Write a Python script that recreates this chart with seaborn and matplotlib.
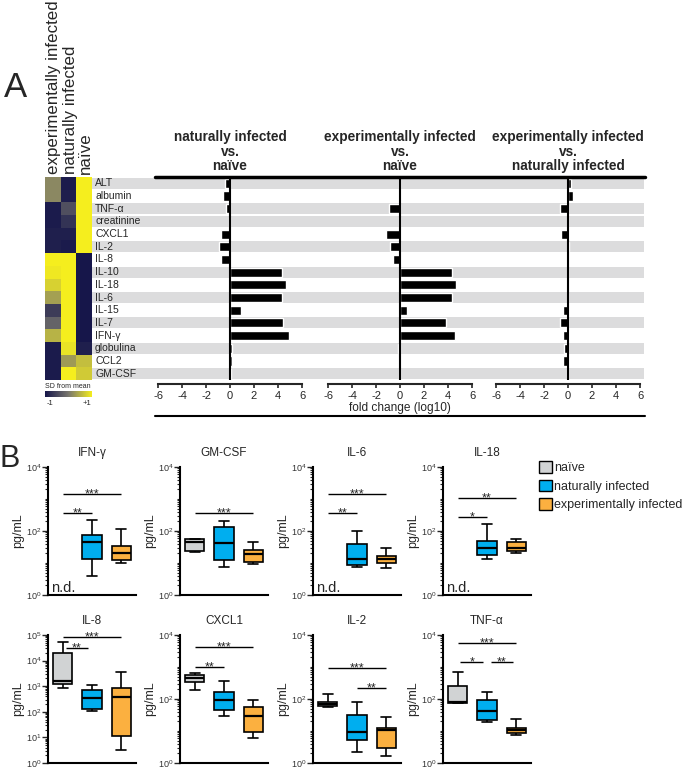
import numpy as np
import pandas as pd
import matplotlib
matplotlib.use("Agg")
import matplotlib.pyplot as plt
import seaborn as sns
from matplotlib.colors import LinearSegmentedColormap
from matplotlib.patches import Patch
from matplotlib.lines import Line2D
from matplotlib.ticker import LogLocator, LogFormatterMathtext, NullFormatter, FixedLocator

sns.set_style("white")
plt.rcParams["font.family"] = ["Liberation Sans", "DejaVu Sans"]
plt.rcParams["axes.unicode_minus"] = False

# ---------------- Panel A data ----------------
rows = ["ALT", "albumin", "TNF-α", "creatinine", "CXCL1", "IL-2", "IL-8", "IL-10",
        "IL-18", "IL-6", "IL-15", "IL-7", "IFN-γ", "globulina", "CCL2", "GM-CSF"]
heat_cols = ["experimentally infected", "naturally infected", "naïve"]
heat_exp = [0.15, 0.15, -0.95, -0.95, -0.9, -0.9, 1.0, 0.95, 0.75, 0.35, -0.6, -0.2, 0.5, -0.95, -0.95, -0.95]
heat_nat = [-0.95, -0.9, -0.4, -0.7, -0.9, -0.95, 1.0, 1.0, 1.0, 1.0, 1.0, 1.0, 1.0, 0.9, 0.3, 1.0]
heat_naive = [1.0, 1.0, 1.0, 1.0, 1.0, 1.0, -1.0, -1.0, -1.0, -1.0, -1.0, -1.0, -1.0, -0.9, 0.6, 0.7]

fc_titles = ["naturally infected\nvs.\nnaïve",
             "experimentally infected\nvs.\nnaïve",
             "experimentally infected\nvs.\nnaturally infected"]
fc_nat_naive = [-0.4, -0.55, -0.35, -0.1, -0.75, -0.9, -0.75, 4.3, 4.65, 4.35, 0.9, 4.4, 4.9, 0.2, 0.15, 0.05]
fc_exp_naive = [-0.05, -0.1, -0.9, -0.05, -1.2, -0.8, -0.6, 4.35, 4.7, 4.35, 0.55, 3.8, 4.6, -0.15, -0.1, -0.1]
fc_exp_nat = [0.28, 0.42, -0.64, 0.02, -0.55, 0.05, 0.03, 0.02, 0.02, 0.02, -0.4, -0.64, -0.4, -0.35, -0.4, -0.1]
fc_ticks = [-6, -4, -2, 0, 2, 4, 6]

# ---------------- Panel B data (whisker low, Q1, median, Q3, whisker high) ----------------
groups = ["naïve", "naturally infected", "experimentally infected"]

ifng_nat = [3.9, 13, 46, 75, 220]
ifng_exp = [10.2, 12.4, 21, 34, 112]

gmcsf_naive = [22, 24, 46, 55, 58]
gmcsf_nat = [7.7, 12.4, 41, 130, 210]
gmcsf_exp = [9.3, 11, 18.7, 25.5, 46]

il6_nat = [7.3, 8.7, 13, 38, 102]
il6_exp = [6.8, 9.8, 13, 17, 30]

il18_nat = [13, 17.8, 30, 50, 162]
il18_exp = [20, 23.7, 30, 44.6, 56]

il8_naive = [870, 1180, 1600, 19000, 55000]
il8_nat = [107, 125, 355, 710, 1080]
il8_exp = [3.2, 11.7, 390, 830, 3700]

cxcl1_naive = [190, 350, 445, 560, 630]
cxcl1_nat = [29, 45, 93, 170, 365]
cxcl1_exp = [5.9, 9.1, 30, 57, 93]

il2_naive = [58, 60, 70, 83, 140]
il2_nat = [2.2, 5.2, 9.5, 31.6, 83]
il2_exp = [1.6, 2.9, 10.7, 12, 28]

tnfa_naive = [74, 76, 83, 260, 710]
tnfa_nat = [19.6, 22, 43, 93, 170]
tnfa_exp = [7.5, 8.9, 10.7, 12.7, 23.7]

# significance: (group a, group b, level in pg/mL, label)
ifng_sig = [(0, 2, 1400, "***"), (0, 1, 355, "**")]
gmcsf_sig = [(0, 2, 355, "***")]
il6_sig = [(0, 2, 1400, "***"), (0, 1, 355, "**")]
il18_sig = [(0, 2, 1050, "**"), (0, 1, 265, "*")]
il8_sig = [(0, 2, 85000, "***"), (0.1, 0.85, 30000, "**")]
cxcl1_sig = [(0, 2, 4200, "***"), (0, 1, 980, "**")]
il2_sig = [(0, 2, 950, "***"), (1, 2, 225, "**")]
tnfa_sig = [(0, 2, 5800, "***"), (0.08, 0.88, 1400, "*"), (1.12, 1.9, 1400, "**")]

panels = [
    ("IFN-γ", [None, ifng_nat, ifng_exp], 1e4, ifng_sig),
    ("GM-CSF", [gmcsf_naive, gmcsf_nat, gmcsf_exp], 1e4, gmcsf_sig),
    ("IL-6", [None, il6_nat, il6_exp], 1e4, il6_sig),
    ("IL-18", [None, il18_nat, il18_exp], 1e4, il18_sig),
    ("IL-8", [il8_naive, il8_nat, il8_exp], 1e5, il8_sig),
    ("CXCL1", [cxcl1_naive, cxcl1_nat, cxcl1_exp], 1e4, cxcl1_sig),
    ("IL-2", [il2_naive, il2_nat, il2_exp], 1e4, il2_sig),
    ("TNF-α", [tnfa_naive, tnfa_nat, tnfa_exp], 1e4, tnfa_sig),
]

# ---------------- styling ----------------
W, H = 685, 769
palette = {"naïve": "#D1D3D4", "naturally infected": "#00AEEF", "experimentally infected": "#FBB040"}
heat_cmap = LinearSegmentedColormap.from_list("sd", ["#16164a", "#78766e", "#f5ee1e"])
band_gray = [1, 0, 1, 1, 0, 1, 0, 1, 0, 1, 0, 1, 0, 1, 0, 1]

fig = plt.figure(figsize=(W / 100, H / 100), dpi=100)


def ax_px(x0, y0, x1, y1, **kw):
    return fig.add_axes([x0 / W, 1 - y1 / H, (x1 - x0) / W, (y1 - y0) / H], **kw)


def fx(x):
    return x / W


def fy(y):
    return 1 - y / H


ROW_TOP, ROW_BOT = 177, 380
n = len(rows)

# background bands + labels
ax_bg = ax_px(92, ROW_TOP, 644, ROW_BOT)
ax_bg.set_xlim(0, 1)
ax_bg.set_ylim(n - 0.5, -0.5)
for i, g in enumerate(band_gray):
    if g:
        ax_bg.axhspan(i - 0.43, i + 0.43, color="#dcdcdd", lw=0)
for i, r in enumerate(rows):
    ax_bg.text(3 / 552, i, r, va="center", ha="left", fontsize=7.5)
ax_bg.axis("off")

# heatmap
heat_df = pd.DataFrame({c: v for c, v in zip(heat_cols, [heat_exp, heat_nat, heat_naive])}, index=rows)
ax_h = ax_px(45, ROW_TOP, 92, ROW_BOT)
sns.heatmap(heat_df, cmap=heat_cmap, vmin=-1, vmax=1, cbar=False, xticklabels=False,
            yticklabels=False, ax=ax_h)
for xc, lab in zip([53.5, 70, 85.5], heat_cols):
    fig.text(fx(xc), fy(174), lab, rotation=90, ha="center", va="bottom", fontsize=12.2)

# colorbar
ax_cb = ax_px(45, 391, 92, 397)
ax_cb.imshow(np.linspace(-1, 1, 256)[None, :], aspect="auto", cmap=heat_cmap)
ax_cb.axis("off")
fig.text(fx(45), fy(387), "SD from mean", fontsize=5, ha="left", va="center")
fig.text(fx(47), fy(404), "-1", fontsize=5.5, ha="left", va="center")
fig.text(fx(91), fy(404), "+1", fontsize=5.5, ha="right", va="center")

fig.text(fx(4), fy(97), "A", fontsize=25, ha="left", va="baseline")

# fold change bars
for left, vals, title in zip([158, 328, 496], [fc_nat_naive, fc_exp_naive, fc_exp_nat], fc_titles):
    ax = ax_px(left, ROW_TOP, left + 144, ROW_BOT)
    ax.patch.set_alpha(0)
    df = pd.DataFrame({"row": rows, "fc": vals})
    sns.barplot(data=df, x="fc", y="row", orient="h", color="black", width=0.72,
                saturation=1, ax=ax)
    ax.set_xlim(-6, 6)
    ax.axvline(0, color="black", lw=1.5, zorder=5)
    ax.set_yticks([])
    ax.set_ylabel("")
    ax.set_xlabel("")
    ax.set_xticks(fc_ticks)
    ax.tick_params(axis="x", direction="out", length=3, width=1.2, labelsize=8, pad=2, bottom=True)
    for s in ["top", "left", "right"]:
        ax.spines[s].set_visible(False)
    ax.spines["bottom"].set_linewidth(1.5)
    ax.spines["bottom"].set_position(("outward", 3))
    fig.text(fx(left + 72), fy(151.5), title, ha="center", va="center", fontsize=9.8,
             fontweight="bold", linespacing=1.07)

fig.add_artist(Line2D([fx(155), fx(645)], [fy(177), fy(177)], color="black", lw=2.5))
fig.text(fx(400), fy(408), "fold change (log10)", ha="center", va="center", fontsize=8.6)
fig.add_artist(Line2D([fx(155), fx(645)], [fy(416), fy(416)], color="black", lw=1.5))

# ---------------- Panel B ----------------
fig.text(fx(0), fy(467), "B", fontsize=22, ha="left", va="baseline")

col_x = [48, 180, 313, 443]
row_y = [(467, 595), (635, 763)]

for k, (name, stats, ymax, sigs) in enumerate(panels):
    r, c = divmod(k, 4)
    x0 = col_x[c]
    y0, y1 = row_y[r]
    ax = ax_px(x0, y0, x0 + 88, y1)
    recs = [(g, v) for g, s in zip(groups, stats) if s is not None for v in s]
    df = pd.DataFrame(recs, columns=["group", "value"])
    sns.boxplot(data=df, x="group", y="value", hue="group", order=groups, hue_order=groups,
                palette=palette, whis=(0, 100), width=0.67, linewidth=1.2, linecolor="black",
                log_scale=True, legend=False, saturation=1, ax=ax,
                medianprops=dict(lw=1.6, color="black"))
    ax.set_xlim(-0.5, 2.5)
    ax.set_ylim(1, ymax)
    decades = int(round(np.log10(ymax)))
    if decades == 5:
        majors = [10.0 ** e for e in range(0, 6)]
    else:
        majors = [1, 100, 1e4]
    ax.yaxis.set_major_locator(FixedLocator(majors))
    ax.yaxis.set_major_formatter(LogFormatterMathtext())
    ax.yaxis.set_minor_locator(LogLocator(base=10, subs=np.arange(1, 10), numticks=50))
    ax.yaxis.set_minor_formatter(NullFormatter())
    ax.tick_params(axis="y", which="major", length=4, width=1.0, labelsize=6.5,
                   labelcolor="#333333", pad=1, left=True, direction="out")
    ax.tick_params(axis="y", which="minor", length=2.5, width=0.8, left=True, direction="out")
    ax.set_xticks([])
    ax.set_xlabel("")
    ax.set_ylabel("pg/mL", fontsize=9, labelpad=1)
    ax.set_title(name, fontsize=8.5, pad=8)
    for s in ["top", "right"]:
        ax.spines[s].set_visible(False)
    for s in ["left", "bottom"]:
        ax.spines[s].set_linewidth(1.5)
        ax.spines[s].set_color("black")
    if stats[0] is None:
        ax.text(0.03, 0.0, "n.d.", transform=ax.transAxes, ha="left", va="bottom", fontsize=10.5)
    for a, b, lvl, lab in sigs:
        ax.plot([a, b], [lvl, lvl], color="black", lw=1.0, solid_capstyle="butt")
        ax.annotate(lab, xy=((a + b) / 2, lvl), xytext=(0, -2.5), textcoords="offset points",
                    ha="center", va="baseline", fontsize=9)

handles = [Patch(facecolor=palette[g], edgecolor="black", lw=1.0) for g in groups]
fig.legend(handles, groups, loc="upper left", bbox_to_anchor=(fx(539), fy(461)), frameon=False,
           fontsize=9, handlelength=1.05, handleheight=1.05, handletextpad=0.15,
           labelspacing=0.45, borderpad=0, borderaxespad=0)

fig.savefig("out.png", dpi=100)
